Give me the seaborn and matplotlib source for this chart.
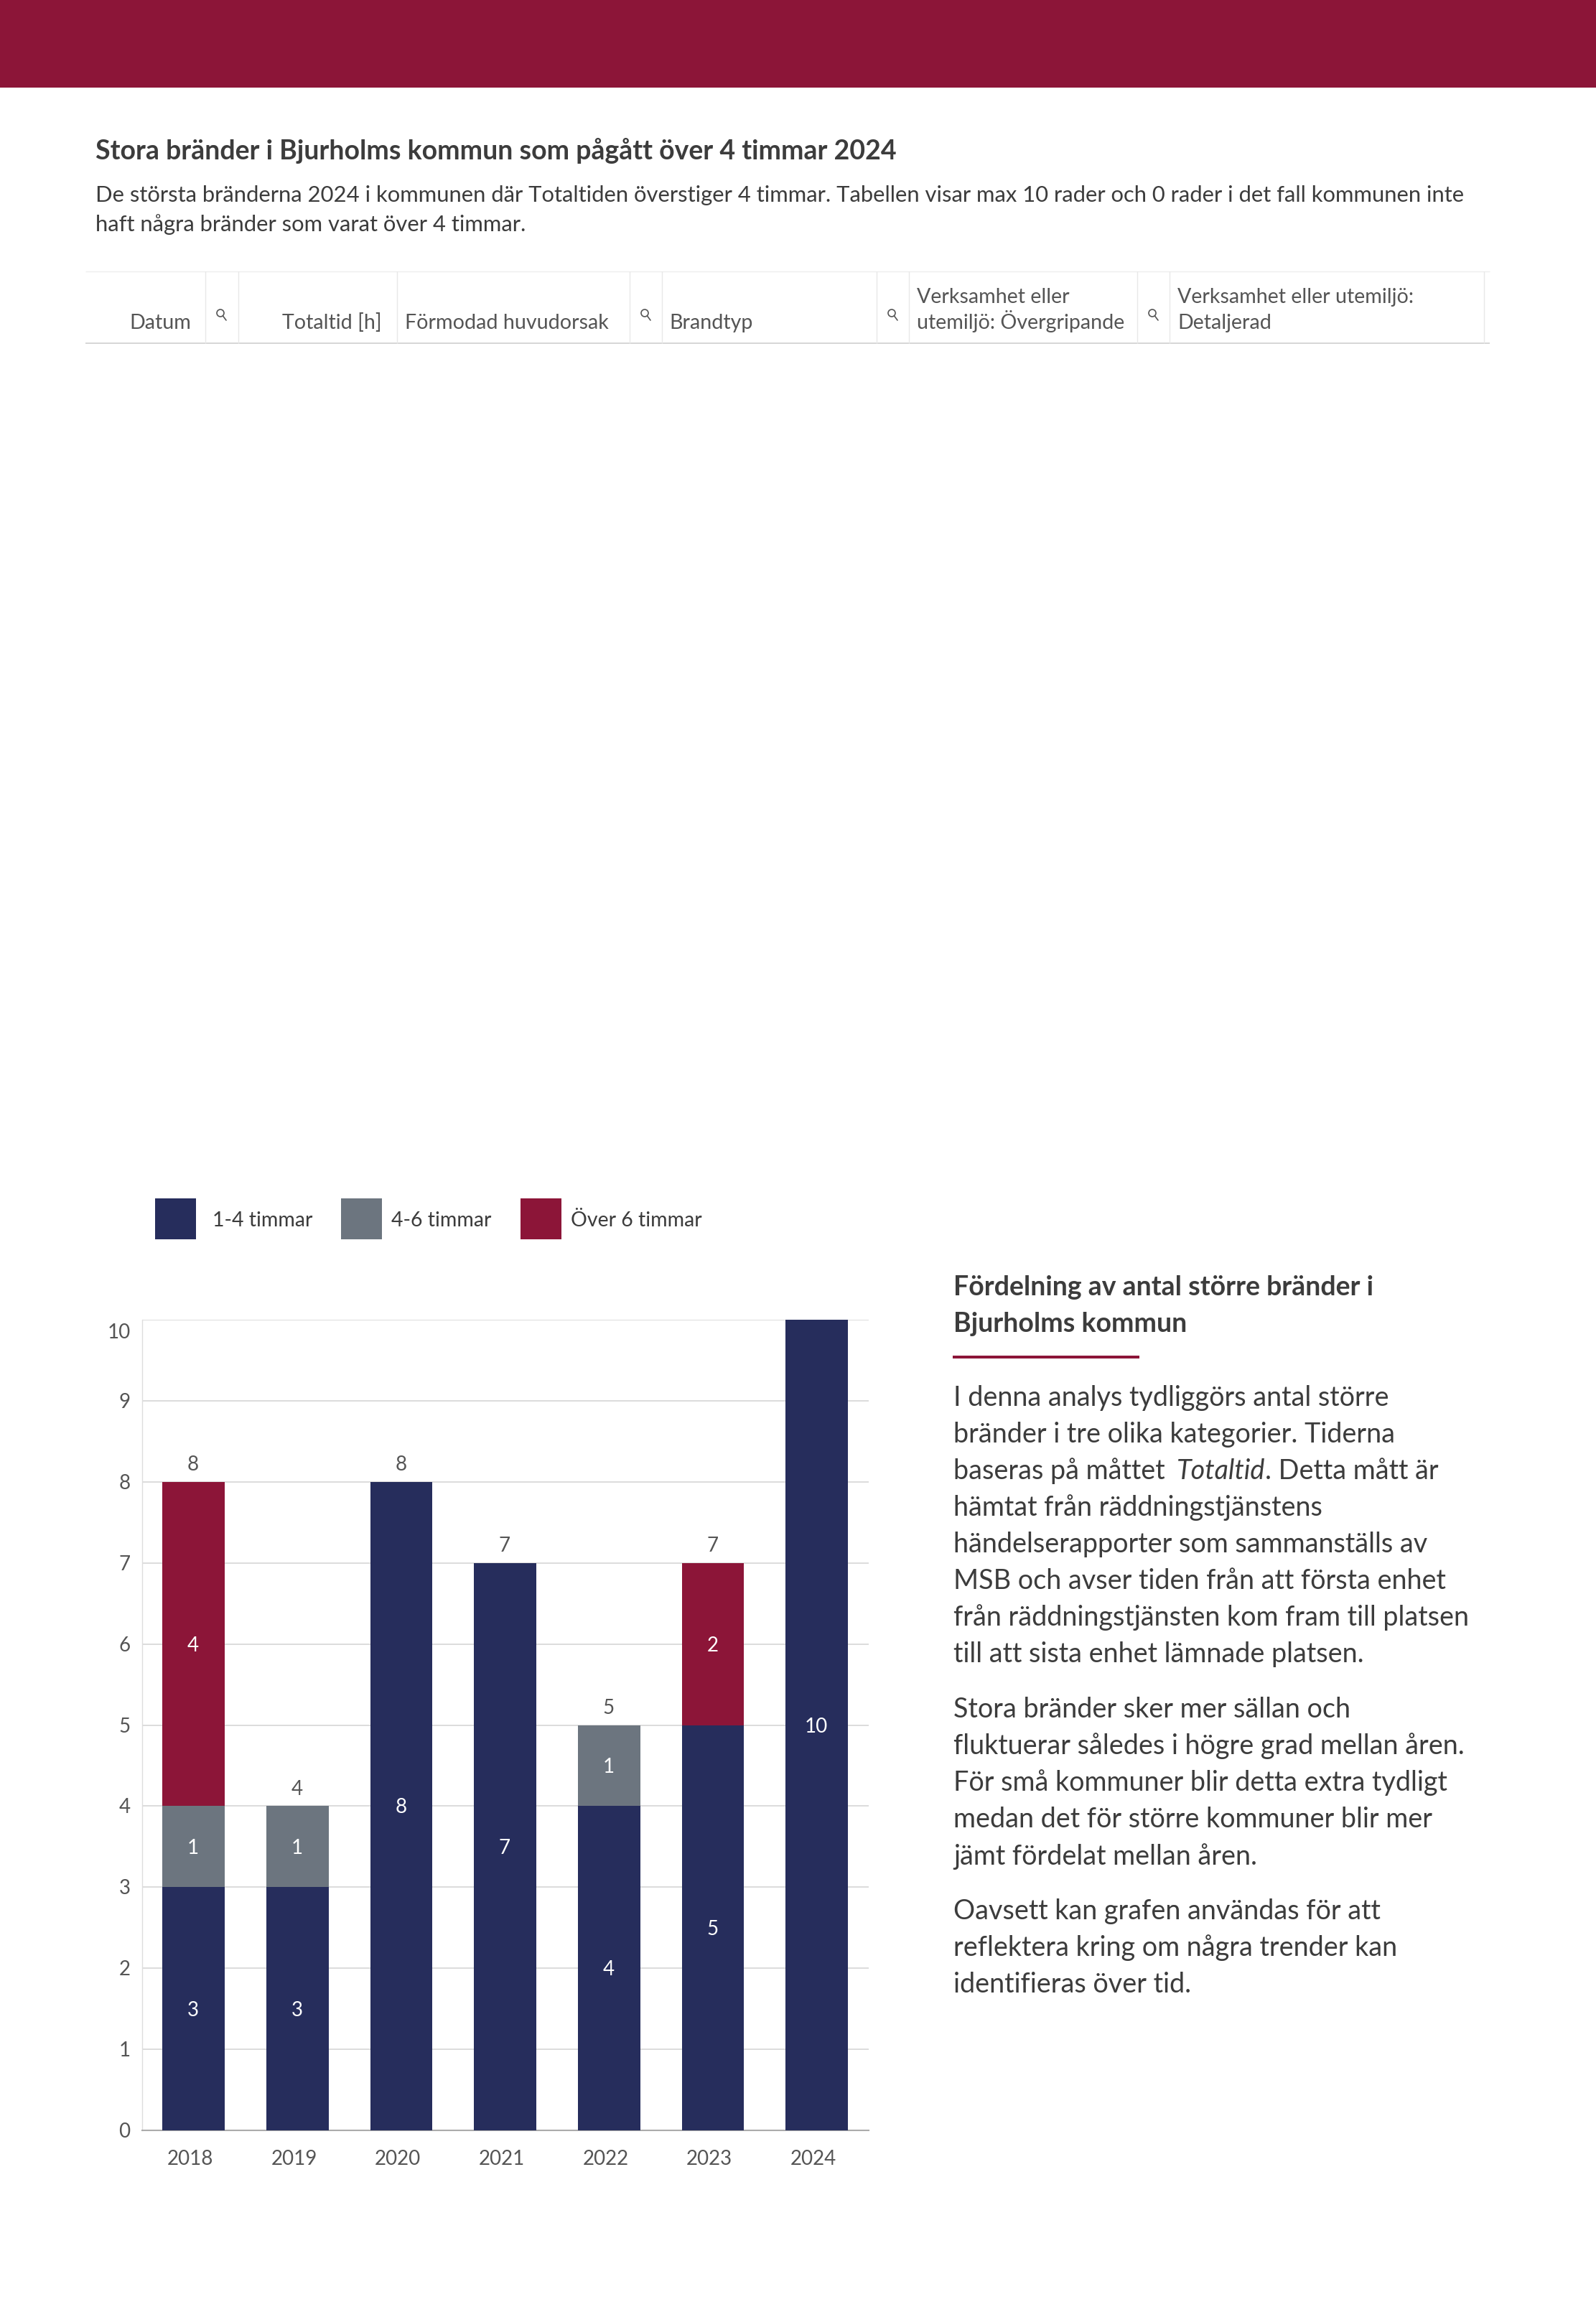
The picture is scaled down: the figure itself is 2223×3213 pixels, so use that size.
import matplotlib.pyplot as plt
import seaborn as sns
import numpy as np
from matplotlib.patches import Rectangle, Circle

W, H = 2223, 3213

# Data
years = ["2018", "2019", "2020", "2021", "2022", "2023", "2024"]
timmar_1_4 = [3, 3, 8, 7, 4, 5, 10]
timmar_4_6 = [1, 1, 0, 0, 1, 0, 0]
timmar_over_6 = [4, 0, 0, 0, 0, 2, 0]
totals = [8, 4, 8, 7, 5, 7, None]
series_names = ["1-4 timmar", "4-6 timmar", "Över 6 timmar"]
y_ticks = [0, 1, 2, 3, 4, 5, 6, 7, 8, 9, 10]

title = "Stora bränder i Bjurholms kommun som pågått över 4 timmar 2024"
subtitle = [
    "De största bränderna 2024 i kommunen där Totaltiden överstiger 4 timmar. Tabellen visar max 10 rader och 0 rader i det fall kommunen inte",
    "haft några bränder som varat över 4 timmar.",
]
heading = ["Fördelning av antal större bränder i", "Bjurholms kommun"]
para_1 = ["I denna analys tydliggörs antal större", "bränder i tre olika kategorier. Tiderna"]
para_1b = ["hämtat från räddningstjänstens", "händelserapporter som sammanställs av",
           "MSB och avser tiden från att första enhet", "från räddningstjänsten kom fram till platsen",
           "till att sista enhet lämnade platsen."]
para_2 = ["Stora bränder sker mer sällan och", "fluktuerar således i högre grad mellan åren.",
          "För små kommuner blir detta extra tydligt", "medan det för större kommuner blir mer",
          "jämt fördelat mellan åren."]
para_3 = ["Oavsett kan grafen användas för att", "reflektera kring om några trender kan",
          "identifieras över tid."]

NAVY, GREY, RED = "#262D5C", "#6C757F", "#8C1538"
DARK, MID = "#3C3C3C", "#555555"

sns.set_theme(style="white")
plt.rcParams["font.family"] = ["Lato", "DejaVu Sans"]

fig = plt.figure(figsize=(W / 100, H / 100), dpi=100, facecolor="white")

# Overlay in pixel coordinates for the page furniture
page = fig.add_axes([0, 0, 1, 1], zorder=0)
page.set_xlim(0, W)
page.set_ylim(H, 0)
page.axis("off")


def txt(x, y, s, size, color=DARK, ha="left", **kw):
    page.text(x, y, s, fontsize=size, color=color, ha=ha, va="baseline", **kw)


page.add_patch(Rectangle((0, 0), W, 122, color=RED, lw=0))

txt(133, 222, title, 27, weight="bold")
txt(133, 281, subtitle[0], 22.3)
txt(133, 322, subtitle[1], 22.3)

# Empty table header
page.plot([119, 2075], [378, 378], color="#EEEEEE", lw=1, solid_capstyle="butt")
page.plot([119, 2075], [478, 478], color="#D0D0D0", lw=1.2, solid_capstyle="butt")
for vx in [286, 331.5, 553, 877, 922, 1221, 1266, 1584, 1629, 2067]:
    page.plot([vx, vx], [378, 478], color="#E8E8E8", lw=1, solid_capstyle="butt")
for ix in [307, 898, 1242, 1605]:
    page.add_patch(Circle((ix, 436), 5, fill=False, ec=MID, lw=1.2))
    page.plot([ix + 3.5, ix + 8], [440, 446], color=MID, lw=1.2)
HDR = 20.6
txt(266, 458, "Datum", HDR, MID, ha="right")
txt(532, 458, "Totaltid [h]", HDR, MID, ha="right")
txt(564, 458, "Förmodad huvudorsak", HDR, MID)
txt(932, 458, "Brandtyp", HDR, MID)
txt(1277, 422, "Verksamhet eller", HDR, MID)
txt(1277, 458, "utemiljö: Övergripande", HDR, MID)
txt(1640, 422, "Verksamhet eller utemiljö:", HDR, MID)
txt(1640, 458, "Detaljerad", HDR, MID)

# Legend
for sx, tx, name, col in zip([216, 475, 725], [296, 545, 795], series_names, [NAVY, GREY, RED]):
    page.add_patch(Rectangle((sx, 1669), 57, 57, color=col, lw=0))
    txt(tx, 1708, name, 20.5)

# Right hand text
txt(1328, 1804, heading[0], 27, weight="bold")
txt(1328, 1855, heading[1], 27, weight="bold")
page.add_patch(Rectangle((1327, 1888), 260, 4, color=RED, lw=0))

BODY = 27.2
for y, line in zip([1958, 2009], para_1):
    txt(1328, y, line, BODY)
txt(1328, 2060, "baseras på måttet", BODY)
txt(1639, 2060, "Totaltid", BODY, style="italic")
txt(1762, 2060, ". Detta mått är", BODY)
for y, line in zip([2111, 2162, 2213, 2264, 2315], para_1b):
    txt(1328, y, line, BODY)
for y, line in zip([2392, 2443, 2494, 2545, 2597], para_2):
    txt(1328, y, line, BODY)
for y, line in zip([2673, 2724, 2775], para_3):
    txt(1328, y, line, BODY)

# Stacked bars
ax = fig.add_axes([197.5 / W, 1 - 2967 / H, (1210 - 197.5) / W, (2967 - 1838) / H], zorder=1)
ax.patch.set_alpha(0)
a, b, c = np.array(timmar_1_4), np.array(timmar_4_6), np.array(timmar_over_6)
for vals, base, col in [(a, 0 * a, NAVY), (b, a, GREY), (c, a + b, RED)]:
    sns.barplot(x=years, y=vals, bottom=base, color=col, saturation=1, width=0.6,
                ax=ax, zorder=3, linewidth=0)

ax.set_xlim(-0.5, 6.5)
ax.set_ylim(0, 10)
ax.set_yticks(y_ticks)
ax.set_yticklabels([])
ax.grid(axis="y", color="#D6D6D6", lw=1.2, zorder=1)
ax.set_axisbelow(True)
ax.tick_params(axis="y", length=7, width=1, color="#CCCCCC", pad=0, labelleft=False)
ax.tick_params(axis="x", length=0, labelbottom=False)
for side in ["top", "right"]:
    ax.spines[side].set_visible(False)
ax.spines["left"].set_color("#DDDDDD")
ax.spines["left"].set_linewidth(1)
ax.spines["bottom"].set_color("#ABABAB")
ax.spines["bottom"].set_linewidth(1.5)

LBL = 20
for t in y_ticks:
    # top label sits below its gridline, as in the page
    off = -13 if t == 10 else -1.5
    ax.annotate(str(t), (0, t), xytext=(-11.5, off), textcoords="offset points",
                xycoords=("axes fraction", "data"), ha="right", va="center", fontsize=LBL, color=MID)
for i, yr in enumerate(years):
    ax.annotate(yr, (i, 0), xytext=(-3.5, -29), textcoords="offset points",
                ha="center", va="center", fontsize=LBL, color=MID)

for i in range(len(years)):
    base = 0
    for vals in (a, b, c):
        if vals[i] > 0:
            ax.annotate(str(vals[i]), (i, base + vals[i] / 2), xytext=(-0.5, -1.5), textcoords="offset points",
                        ha="center", va="center", fontsize=LBL, color="white", zorder=4)
        base += vals[i]
    if totals[i] is not None:
        ax.annotate(str(totals[i]), (i, totals[i]), xytext=(-0.5, 17), textcoords="offset points",
                    ha="center", va="center", fontsize=LBL, color=MID)

fig.savefig("out.png", dpi=100, facecolor="white")
